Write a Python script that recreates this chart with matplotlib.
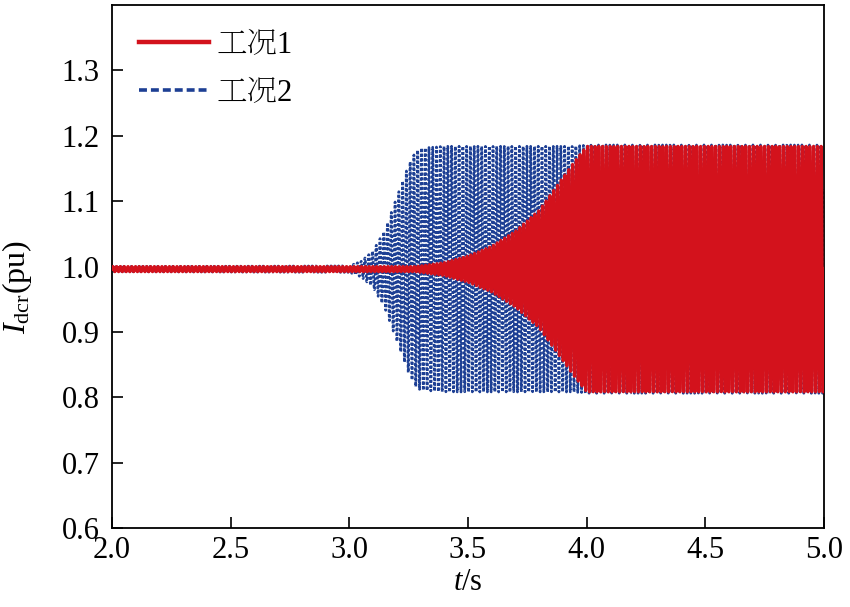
import numpy as np
import matplotlib
matplotlib.use("Agg")
import matplotlib.pyplot as plt

plt.rcParams['font.family'] = ['Liberation Serif', 'Noto Serif SC']
plt.rcParams['mathtext.fontset'] = 'custom'
plt.rcParams['mathtext.rm'] = 'Liberation Serif'
plt.rcParams['mathtext.it'] = 'Liberation Serif:italic'

# ===============================
# data
# ===============================

labels = ["工况1", "工况2"]

# envelope (half peak-to-peak, pu) at these times
env_t = [2.0, 3.0, 3.05, 3.1, 3.15, 3.2, 3.25, 3.28, 3.3, 3.4, 3.5, 3.6,
         3.7, 3.8, 3.9, 3.95, 4.0, 4.5, 5.0]
env_case1 = [0.004, 0.004, 0.004, 0.004, 0.004, 0.004, 0.004, 0.004, 0.005,
             0.01, 0.02, 0.035, 0.058, 0.09, 0.14, 0.165, 0.188, 0.188, 0.188]
env_case2 = [0.004, 0.005, 0.012, 0.028, 0.06, 0.11, 0.16, 0.18, 0.185,
             0.188, 0.188, 0.188, 0.188, 0.188, 0.188, 0.188, 0.19, 0.19, 0.19]
centre = 0.996          # mean level of both currents
osc_freq = 63.0         # oscillation frequency estimated from cycle spacing (Hz)

t = np.linspace(2.0, 5.0, 9000)
y1 = centre + np.interp(t, env_t, env_case1) * np.sin(2 * np.pi * osc_freq * t)
y2 = centre + np.interp(t, env_t, env_case2) * np.sin(2 * np.pi * osc_freq * t + 0.7)

# ===============================
# plot
# ===============================

fig = plt.figure(figsize=(8.5, 6.07), dpi=100)
ax = fig.add_axes([112 / 850, 1 - 528 / 607, 712 / 850, 523 / 607])

ax.plot(t, y2, color="#1d3f94", lw=1.9, ls=(0, (1.1, 0.7)), label=labels[1], zorder=2)
ax.plot(t, y1, color="#d3121c", lw=2.2, label=labels[0], zorder=3)

ax.set_xlim(2.0, 5.0)
ax.set_ylim(0.6, 1.4)
ax.set_xticks(np.arange(2.0, 5.01, 0.5))
ax.set_yticks(np.arange(0.6, 1.31, 0.1))
ax.set_xticklabels([f"{v:.1f}" for v in np.arange(2.0, 5.01, 0.5)])
ax.set_yticklabels([f"{v:.1f}" for v in np.arange(0.6, 1.31, 0.1)])
ax.tick_params(direction="in", length=8, width=1.2, labelsize=22,
               top=False, right=False)
ax.tick_params(axis="x", pad=6)
ax.tick_params(axis="y", pad=9)
for s in ax.spines.values():
    s.set_linewidth(1.3)

ax.set_xlabel(r"$t$/s", fontsize=22, labelpad=2)
ax.set_ylabel(r"$I_{\rm dcr}$(pu)", fontsize=23)
ax.yaxis.set_label_coords(-0.109, 0.46)

h, l = ax.get_legend_handles_labels()
leg = ax.legend(h[::-1], l[::-1], loc="upper left", bbox_to_anchor=(0.012, 0.985),
                frameon=False, fontsize=22, handlelength=2.3, handletextpad=0.25,
                labelspacing=0.6, borderaxespad=0.2)
lines = leg.get_lines()
lines[0].set_linewidth(3.2)
lines[1].set_linewidth(2.6)
lines[1].set_dashes((2.2, 1.1))

fig.savefig("out.png", dpi=100)
